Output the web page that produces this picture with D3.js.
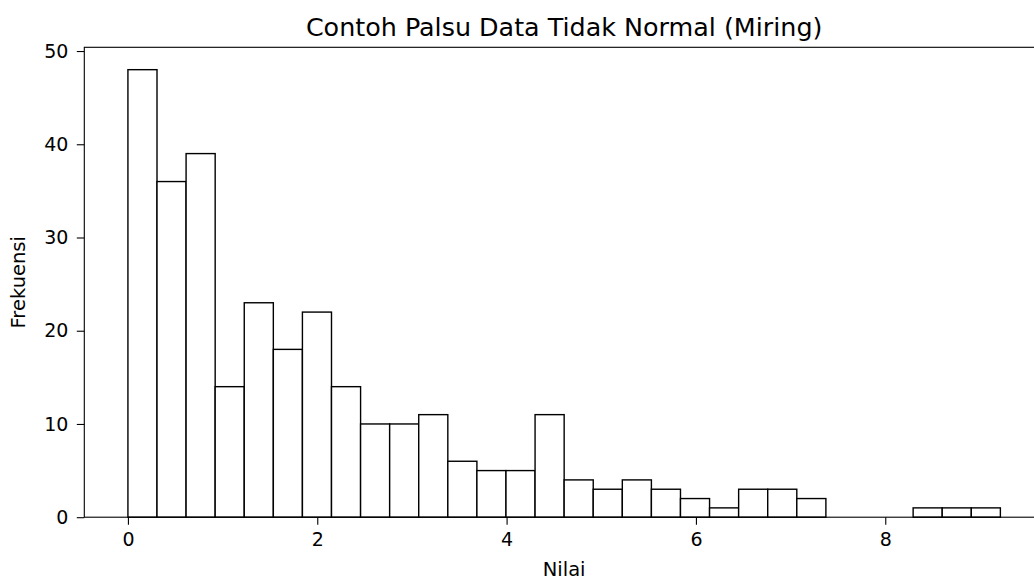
<!DOCTYPE html>
<html>
<head>
<meta charset="utf-8">
<script src="https://cdn.jsdelivr.net/npm/d3@7"></script>
<style>
  html, body { margin: 0; padding: 0; background: #fff; }
  svg { display: block; font-family: "DejaVu Sans", sans-serif; }
</style>
</head>
<body>
<svg id="chart" width="1034" height="580"></svg>
<script>
// Histogram data (30 equal-width bins between binMin and binMax)
const binMin = 0.0;
const binMax = 9.216;
const counts = [48, 36, 39, 14, 23, 18, 22, 14, 10, 10, 11, 6, 5, 5, 11, 4, 3, 4, 3, 2, 1, 3, 3, 2, 0, 0, 0, 1, 1, 1];
const xTicks = [0, 2, 4, 6, 8];
const yTicks = [0, 10, 20, 30, 40, 50];
const titleText = "Contoh Palsu Data Tidak Normal (Miring)";
const xLabelText = "Nilai";
const yLabelText = "Frekuensi";

(function () {
const svg = d3.select("#chart");
const mL = 84.3, mR = 1044, mT = 47.3, mB = 517.2;

const span = binMax - binMin;
const x = d3.scaleLinear()
  .domain([binMin - 0.05 * span, binMax + 0.05 * span])
  .range([mL, mR]);
const y = d3.scaleLinear()
  .domain([0, d3.max(counts) * 1.05])
  .range([mB, mT]);

const binW = span / counts.length;
const bins = counts.map((c, i) => ({ x0: binMin + i * binW, x1: binMin + (i + 1) * binW, c }));

// Bars
svg.append("g").selectAll("rect")
  .data(bins.filter(d => d.c > 0))
  .join("rect")
  .attr("x", d => x(d.x0))
  .attr("y", d => y(d.c))
  .attr("width", d => x(d.x1) - x(d.x0))
  .attr("height", d => y(0) - y(d.c))
  .attr("fill", "#ffffff")
  .attr("stroke", "#000")
  .attr("stroke-width", 1.4);

// Spines
svg.append("rect")
  .attr("x", mL).attr("y", mT).attr("width", mR - mL).attr("height", mB - mT)
  .attr("fill", "none").attr("stroke", "#000").attr("stroke-width", 1.1);

// X axis
const xAxis = svg.append("g")
  .attr("transform", `translate(0,${mB})`)
  .call(d3.axisBottom(x).tickValues(xTicks).tickFormat(d3.format("d")).tickSizeOuter(0).tickSize(7.5).tickPadding(7.5));
xAxis.select(".domain").remove();
xAxis.selectAll("line").attr("stroke", "#000").attr("stroke-width", 1.1);
xAxis.selectAll("text").attr("font-size", 19).attr("fill", "#000").attr("font-family", "DejaVu Sans");

// Y axis
const yAxis = svg.append("g")
  .attr("transform", `translate(${mL},0)`)
  .call(d3.axisLeft(y).tickValues(yTicks).tickFormat(d3.format("d")).tickSizeOuter(0).tickSize(7.5).tickPadding(8.4));
yAxis.select(".domain").remove();
yAxis.selectAll("line").attr("stroke", "#000").attr("stroke-width", 1.1);
yAxis.selectAll("text").attr("font-size", 19).attr("fill", "#000").attr("font-family", "DejaVu Sans");

// Labels
svg.append("text")
  .attr("x", (mL + mR) / 2).attr("y", 35.5)
  .attr("text-anchor", "middle").attr("font-size", 25.4).attr("fill", "#000")
  .text(titleText);

svg.append("text")
  .attr("x", (mL + mR) / 2).attr("y", 575.5)
  .attr("text-anchor", "middle").attr("font-size", 19.5).attr("fill", "#000")
  .text(xLabelText);

svg.append("text")
  .attr("transform", `translate(25,${(mT + mB) / 2}) rotate(-90)`)
  .attr("text-anchor", "middle").attr("font-size", 19.5).attr("fill", "#000")
  .text(yLabelText);
})();
</script>
</body>
</html>
